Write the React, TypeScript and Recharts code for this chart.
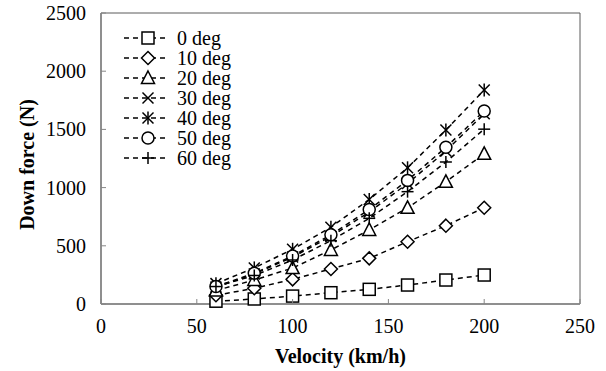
import React from 'react'
import { LineChart, Line, XAxis, YAxis, ReferenceArea, Legend } from 'recharts'

// velocity (km/h) and down force (N) per wing angle
const velocity = [60, 80, 100, 120, 140, 160, 180, 200]
const deg0 = [24, 43, 68, 97, 126, 163, 206, 249]
const deg10 = [75, 135, 212, 301, 392, 535, 673, 827]
const deg20 = [116, 206, 309, 464, 636, 826, 1050, 1290]
const deg30 = [145, 258, 403, 580, 790, 1035, 1315, 1635]
const deg40 = [175, 310, 470, 660, 898, 1170, 1495, 1838]
const deg50 = [150, 265, 412, 595, 812, 1062, 1346, 1658]
const deg60 = [150, 245, 378, 544, 736, 965, 1220, 1502]

const xTicks = [0, 50, 100, 150, 200, 250]
const yTicks = [0, 500, 1000, 1500, 2000, 2500]

const seriesNames = ['0 deg', '10 deg', '20 deg', '30 deg', '40 deg', '50 deg', '60 deg']
const seriesValues = [deg0, deg10, deg20, deg30, deg40, deg50, deg60]
const seriesShapes = ['square', 'diamond', 'triangle', 'cross', 'star', 'circle', 'plus']

const FONT = "'Liberation Serif', 'Times New Roman', serif"
const AXIS = '#868686'
const FRAME = '#5a5a5a'
const DASH = '5 4'

const chartData = velocity.map((v, i) => {
  const row: Record<string, number> = { v }
  seriesNames.forEach((n, k) => {
    row[n] = seriesValues[k][i]
  })
  return row
})

function Marker({ cx, cy, shape }: { cx: number; cy: number; shape: string }) {
  const s = 6
  const common = { stroke: '#000', strokeWidth: 1.5, fill: '#fff' }
  switch (shape) {
    case 'square':
      return <rect x={cx - s} y={cy - s} width={2 * s} height={2 * s} {...common} />
    case 'diamond':
      return (
        <polygon
          points={`${cx},${cy - 6.5} ${cx + 6.5},${cy} ${cx},${cy + 6.5} ${cx - 6.5},${cy}`}
          {...common}
        />
      )
    case 'triangle':
      return (
        <polygon
          points={`${cx},${cy - 7} ${cx + 6.5},${cy + 5.5} ${cx - 6.5},${cy + 5.5}`}
          {...common}
        />
      )
    case 'circle':
      return <circle cx={cx} cy={cy} r={6} {...common} />
    case 'cross':
      return (
        <g stroke="#000" strokeWidth={1.5}>
          <line x1={cx - 5.5} y1={cy - 5.5} x2={cx + 5.5} y2={cy + 5.5} />
          <line x1={cx - 5.5} y1={cy + 5.5} x2={cx + 5.5} y2={cy - 5.5} />
        </g>
      )
    case 'star':
      return (
        <g stroke="#000" strokeWidth={1.5}>
          <line x1={cx - 5.5} y1={cy - 5.5} x2={cx + 5.5} y2={cy + 5.5} />
          <line x1={cx - 5.5} y1={cy + 5.5} x2={cx + 5.5} y2={cy - 5.5} />
          <line x1={cx} y1={cy - 6.5} x2={cx} y2={cy + 6.5} />
        </g>
      )
    default:
      return (
        <g stroke="#000" strokeWidth={1.5}>
          <line x1={cx - 6} y1={cy} x2={cx + 6} y2={cy} />
          <line x1={cx} y1={cy - 6} x2={cx} y2={cy + 6} />
        </g>
      )
  }
}

const XTick = ({ x, y, payload }: any) => (
  <g>
    <line x1={x} x2={x} y1={y} y2={y - 5} stroke={AXIS} />
    <text x={x} y={y + 29} textAnchor="middle" fontFamily={FONT} fontSize={20} fill="#000">
      {payload.value}
    </text>
  </g>
)

const YTick = ({ x, y, payload }: any) => (
  <g>
    <line x1={x} x2={x + 5} y1={y} y2={y} stroke={AXIS} />
    <text x={x - 15} y={y + 7} textAnchor="end" fontFamily={FONT} fontSize={20} fill="#000">
      {payload.value}
    </text>
  </g>
)

const YTitle = ({ viewBox }: any) => {
  const cx = 34
  const cy = viewBox.y + viewBox.height / 2 + 6
  return (
    <text
      x={cx}
      y={cy}
      transform={`rotate(-90 ${cx} ${cy})`}
      textAnchor="middle"
      fontFamily={FONT}
      fontSize={20}
      fontWeight="bold"
      fill="#000"
    >
      Down force (N)
    </text>
  )
}

const renderLegend = () => (
  <svg width={130} height={150}>
    {seriesNames.map((name, i) => {
      const y = 13 + i * 20
      return (
        <g key={name}>
          <line x1={9} x2={53} y1={y} y2={y} stroke="#000" strokeWidth={1.5} strokeDasharray={DASH} />
          <Marker cx={33} cy={y} shape={seriesShapes[i]} />
          <text x={62} y={y + 7} fontFamily={FONT} fontSize={20} fill="#000">
            {name}
          </text>
        </g>
      )
    })}
  </svg>
)

export default function App() {
  return (
    <div style={{ width: 606, height: 371, background: '#fff' }}>
      <style>{'body{margin:0}'}</style>
      <LineChart width={606} height={371} data={chartData} margin={{ top: 13, right: 26, left: 0, bottom: 0 }}>
        <XAxis
          dataKey="v"
          type="number"
          domain={[0, 250]}
          ticks={xTicks}
          height={67}
          stroke={AXIS}
          strokeWidth={1.5}
          tickLine={false}
          tickSize={0}
          tickMargin={0}
          tick={<XTick />}
          label={{ value: 'Velocity (km/h)', position: 'insideBottom', offset: 8, fontFamily: FONT, fontSize: 20, fontWeight: 'bold', fill: '#000' }}
        />
        <YAxis
          type="number"
          domain={[0, 2500]}
          ticks={yTicks}
          width={101}
          stroke={AXIS}
          strokeWidth={1.5}
          tickLine={false}
          tickSize={0}
          tickMargin={0}
          tick={<YTick />}
          label={{ content: <YTitle /> }}
        />
        <ReferenceArea x1={0} x2={250} y1={0} y2={2500} fill="none" stroke={FRAME} strokeWidth={1} />
        <Legend
          layout="vertical"
          align="center"
          verticalAlign="middle"
          content={renderLegend}
          wrapperStyle={{ left: 115, top: 25, width: 130, height: 150 }}
        />
        {seriesNames.map((name, k) => (
          <Line
            key={name}
            dataKey={name}
            type="linear"
            stroke="#000"
            strokeWidth={1.5}
            strokeDasharray={DASH}
            isAnimationActive={false}
            dot={(p: any) => <Marker key={`${name}-${p.index}`} cx={p.cx} cy={p.cy} shape={seriesShapes[k]} />}
            activeDot={false}
          />
        ))}
      </LineChart>
    </div>
  )
}
